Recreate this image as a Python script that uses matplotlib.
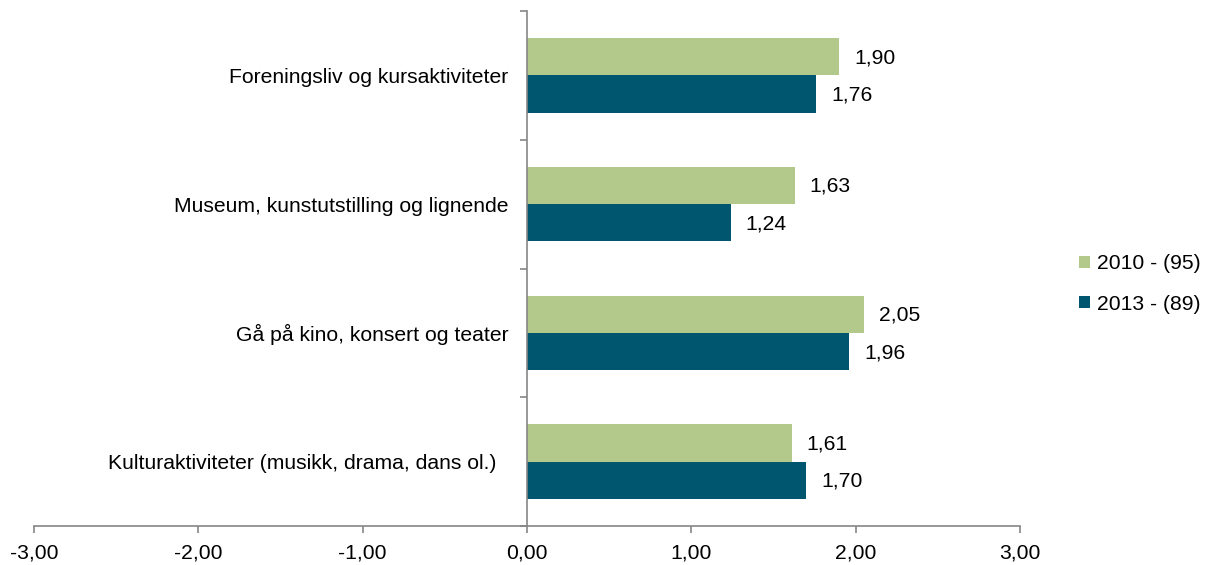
import matplotlib
matplotlib.use("Agg")
import matplotlib.pyplot as plt
from matplotlib.ticker import FixedLocator, FuncFormatter
import numpy as np

plt.rcParams['font.family'] = ['Liberation Sans', 'DejaVu Sans']

categories = [
    "Foreningsliv og kursaktiviteter",
    "Museum, kunstutstilling og lignende",
    "Gå på kino, konsert og teater",
    "Kulturaktiviteter (musikk, drama, dans ol.)  ",
]
series_names = ["2010 - (95)", "2013 - (89)"]
values_2010 = [1.90, 1.63, 2.05, 1.61]
values_2013 = [1.76, 1.24, 1.96, 1.70]
x_ticks = [-3, -2, -1, 0, 1, 2, 3]

green = "#B3C98C"
teal = "#00566E"
axis_grey = "#868686"
FS = 15.2

fig = plt.figure(figsize=(12.09, 5.65), dpi=100)
ax = fig.add_axes([34 / 1209, 1 - 526 / 565, (1020 - 34) / 1209, (526 - 11) / 565])

n = len(categories)
pos = np.arange(n)[::-1] + 0.5  # top category first
h = 0.29

b1 = ax.barh(pos + h / 2, values_2010, height=h, color=green, label=series_names[0])
b2 = ax.barh(pos - h / 2, values_2013, height=h, color=teal, label=series_names[1])

fmt = lambda v: f"{v:.2f}".replace(".", ",")
for bars, vals in ((b1, values_2010), (b2, values_2013)):
    for rect, v in zip(bars, vals):
        ax.annotate(fmt(v), xy=(v, rect.get_y() + rect.get_height() / 2),
                    xytext=(15, -1), textcoords="offset pixels",
                    va="center", ha="left", fontsize=FS, color="#000000")

ax.set_xlim(-3, 3)
ax.set_ylim(0, n)

ax.spines['left'].set_position(('data', 0))
for s in ('top', 'right'):
    ax.spines[s].set_visible(False)
for s in ('left', 'bottom'):
    ax.spines[s].set_color(axis_grey)
    ax.spines[s].set_linewidth(1.2)

ax.xaxis.set_major_locator(FixedLocator(x_ticks))
ax.xaxis.set_major_formatter(FuncFormatter(lambda v, p: fmt(v)))
ax.tick_params(axis='x', direction='out', length=5, color=axis_grey, width=1.2,
               labelsize=FS, pad=7.5)

ax.set_yticks(np.arange(n + 1))
ax.set_yticklabels([])
ax.set_yticks(pos, minor=True)
ax.set_yticklabels(categories, minor=True, fontsize=FS)
ax.tick_params(axis='y', which='major', direction='out', length=5, color=axis_grey, width=1.2)
ax.tick_params(axis='y', which='minor', length=0, pad=13.5)

ax.legend(loc='center left', bbox_to_anchor=(1079 / 1209, 1 - 284 / 565),
          bbox_transform=fig.transFigure, borderaxespad=0, borderpad=0,
          frameon=False, fontsize=FS, handlelength=0.5, handleheight=0.5,
          handletextpad=0.35, labelspacing=1.0)

fig.savefig("out.png", dpi=100)
